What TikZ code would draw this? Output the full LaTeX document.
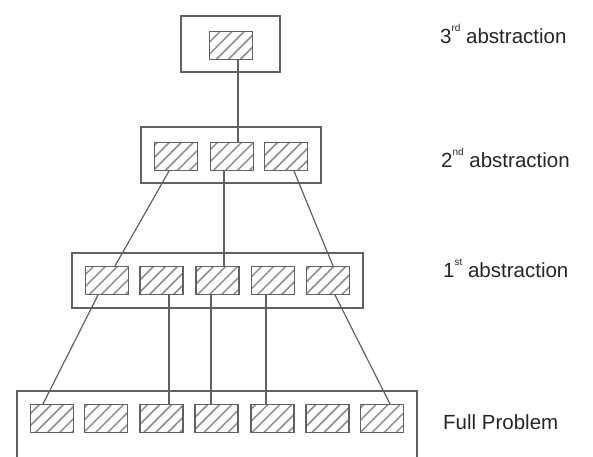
\documentclass[tikz,border=0pt]{standalone}
\usepackage{fontspec}
\setmainfont{Liberation Sans}
\usetikzlibrary{patterns.meta,calc}
\definecolor{linegray}{gray}{0.38}
\definecolor{textgray}{gray}{0.15}
\newcommand{\supx}[1]{\raisebox{0.55em}{\fontsize{10}{12}\selectfont #1}}
\tikzset{
  hb/.style={draw=linegray, line width=1.1pt, minimum width=43pt, minimum height=28pt,
    inner sep=0pt, pattern={Lines[angle=45,distance=8.5pt,line width=1.5pt]}, pattern color=gray!90},
  outer/.style={draw=linegray, line width=1.2pt},
  conn/.style={draw=linegray, line width=1.2pt},
  lbl/.style={anchor=base west, inner sep=0pt, text=textgray, font=\fontsize{20.5}{24}\selectfont}
}
\begin{document}
\begin{tikzpicture}[x=1pt,y=-1pt]
\useasboundingbox (0,0) rectangle (593,456);
\begin{scope}
\clip (0,0) rectangle (593,456);
% outer boxes
\draw[outer] (181,16) rectangle (280,72);
\draw[outer] (141,127) rectangle (321,183);
\draw[outer] (72,253) rectangle (363,308);
\draw[outer] (17,391) rectangle (417,480);
% level 3
\node[hb] (l3) at (231,45.5) {};
% level 2
\node[hb] (l2a) at (176,156.5) {};
\node[hb] (l2b) at (232,156.5) {};
\node[hb] (l2c) at (286,156.5) {};
% level 1
\node[hb] (l1a) at (107,280.5) {};
\node[hb] (l1b) at (161.5,280.5) {};
\node[hb] (l1c) at (217.5,280.5) {};
\node[hb] (l1d) at (273,280.5) {};
\node[hb] (l1e) at (328,280.5) {};
% full
\node[hb] (f1) at (52,418.5) {};
\node[hb] (f2) at (106,418.5) {};
\node[hb] (f3) at (161.5,418.5) {};
\node[hb] (f4) at (216.5,418.5) {};
\node[hb] (f5) at (272.5,418.5) {};
\node[hb] (f6) at (327.5,418.5) {};
\node[hb] (f7) at (382,418.5) {};
% connectors
\draw[conn] ([xshift=7pt]l3.south) -- ([xshift=7pt]l3.south |- l2b.north);
\draw[conn] ([xshift=-7pt]l2a.south) -- ([xshift=8pt]l1a.north);
\draw[conn] ([xshift=-9pt]l1a.south) -- ([xshift=-9pt]f1.north);
\draw[conn] ([xshift=-8pt]l2b.south) -- ([xshift=-8pt]l2b.south |- l1c.north);
\draw[conn] ([xshift=8pt]l2c.south) -- ([xshift=5pt]l1e.north);
\draw[conn] ([xshift=7pt]l1e.south) -- ([xshift=8pt]f7.north);
\draw[conn] ([xshift=7.5pt]l1b.south) -- ([xshift=7.5pt]l1b.south |- f3.north);
\draw[conn] ([xshift=-6.5pt]l1c.south) -- ([xshift=-6.5pt]l1c.south |- f4.north);
\draw[conn] ([xshift=-7pt]l1d.south) -- ([xshift=-7pt]l1d.south |- f5.north);
\end{scope}
% labels
\node[lbl] (t3) at (440,43) {3\supx{rd} abstraction};
\node[lbl] (t2) at (441,167) {2\supx{nd} abstraction};
\node[lbl] (t1) at (443,277) {1\supx{st} abstraction};
\node[lbl] (t0) at (443,429) {Full Problem};
\end{tikzpicture}
\end{document}
